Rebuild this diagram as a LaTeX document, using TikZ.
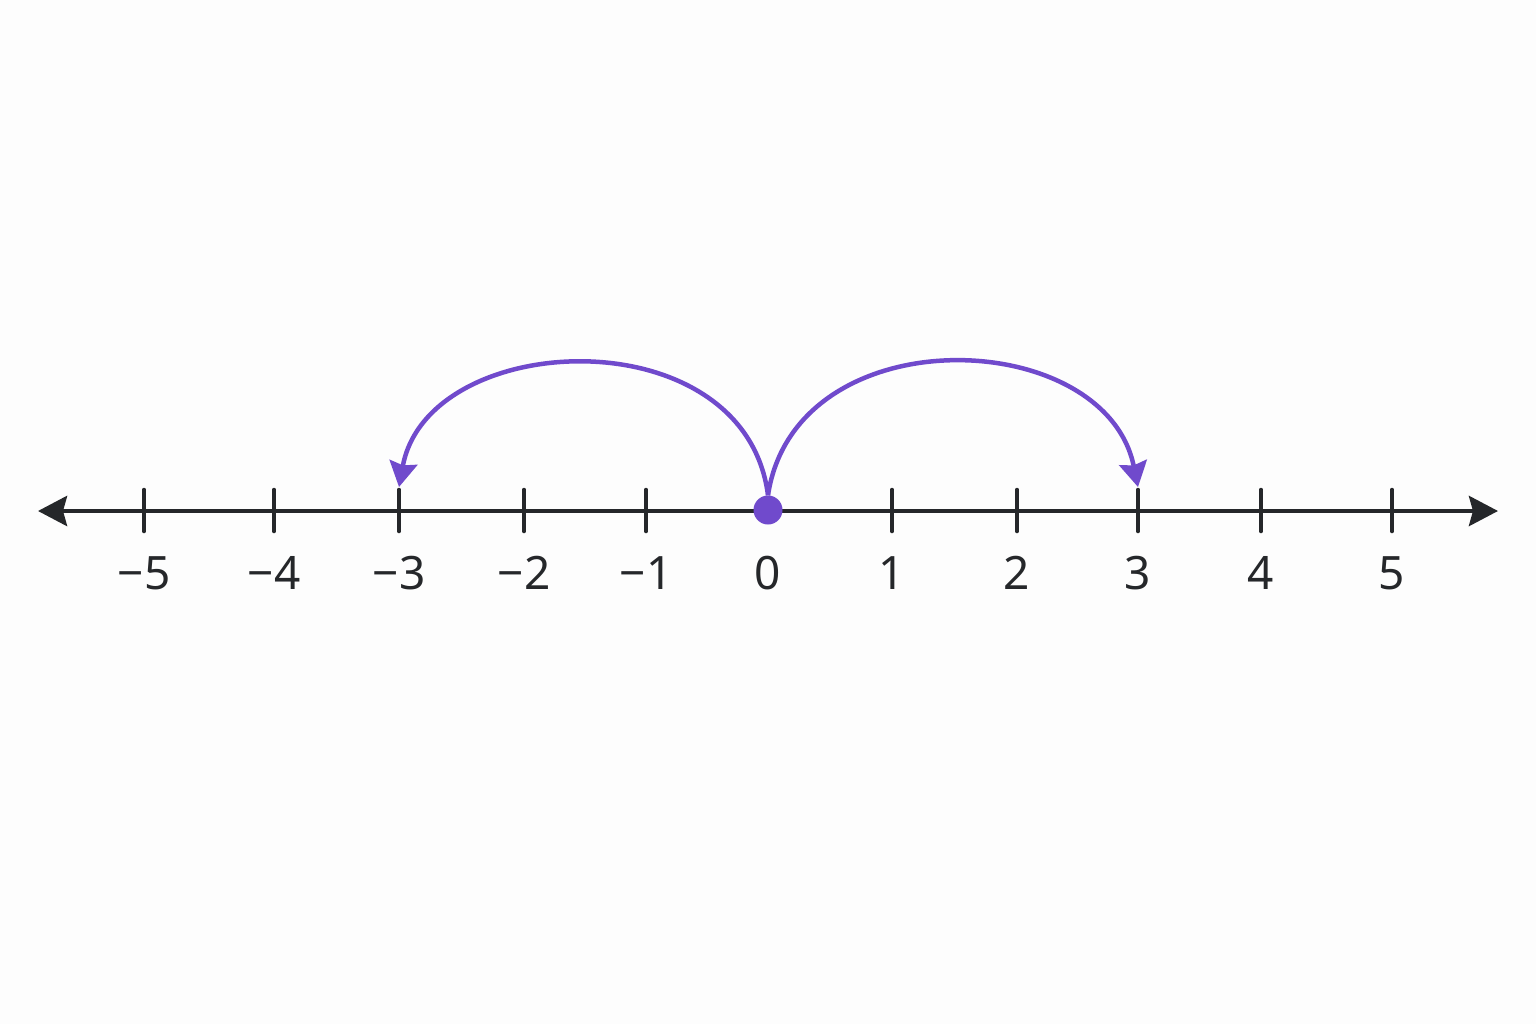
\documentclass[tikz,border=0pt]{standalone}
\usepackage{fontspec}
\setmainfont{Noto Sans}
\usetikzlibrary{arrows.meta}
\definecolor{axiscol}{HTML}{25272A}
\definecolor{purp}{RGB}{112,74,204}
\definecolor{bgcol}{HTML}{FDFDFD}
\tikzset{
  axisline/.style={draw=axiscol, line width=4.5pt, {Stealth[length=29pt,width=30pt,inset=4pt]}-{Stealth[length=29pt,width=30pt,inset=4pt]}},
  tickmark/.style={draw=axiscol, line width=3.5pt, line cap=round},
  numlabel/.style={text=axiscol, inner sep=0pt, font=\fontsize{46}{50}\selectfont},
  jumparc/.style={draw=purp, line width=4.5pt, -{Stealth[length=25pt,width=28pt,inset=3pt]}},
  zerodot/.style={circle, fill=purp, minimum size=29pt, inner sep=0pt}
}
\begin{document}
\begin{tikzpicture}[x=1pt,y=-1pt]
\fill[bgcol] (0,0) rectangle (1536,1024);
\useasboundingbox (0,0) rectangle (1536,1024);
% axis
\coordinate (L) at (38,511);
\coordinate (R) at (1498,511);
\draw[axisline] (L) -- (R);
% ticks and labels
\foreach \n/\x/\t in {m5/144/{−5}, m4/274/{−4}, m3/399/{−3}, m2/524/{−2}, m1/646/{−1}, p1/892/1, p2/1017/2, p3/1138/3, p4/1261/4, p5/1392/5}{
  \coordinate (top\n) at (\x,489.5);
  \coordinate (bot\n) at (\x,531.5);
  \draw[tickmark] (top\n) -- (bot\n);
  \node[numlabel] (lab\n) at (\x,573) {\t};
}
\node[numlabel] (lab0) at (768,573) {0};
% dot at zero
\node[zerodot] (z) at (768,510) {};
% jump arcs
\coordinate (endm3) at (399,487);
\coordinate (endp3) at (1138,487);
\draw[jumparc] (z.north) .. controls (745,315) and (428,328) .. (endm3);
\draw[jumparc] (z.north) .. controls (795,315) and (1105,325) .. (endp3);
\end{tikzpicture}
\end{document}
